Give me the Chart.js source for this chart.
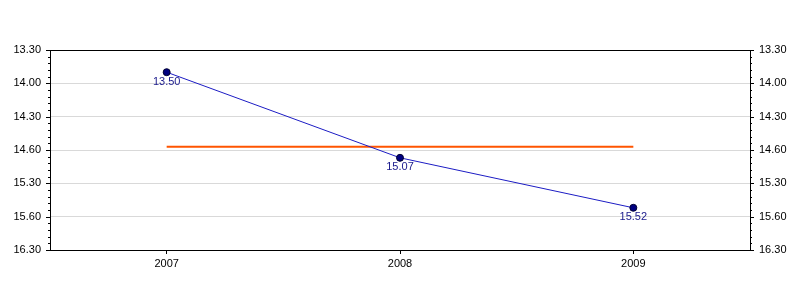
<!DOCTYPE html>
<html>
<head>
<meta charset="utf-8">
<script src="https://cdn.jsdelivr.net/npm/chart.js@4/dist/chart.umd.min.js"></script>
<style>
  html, body { margin: 0; padding: 0; background: #fff; }
  #wrap { width: 800px; height: 300px; }
</style>
</head>
<body>
<div id="wrap"><canvas id="chart" width="800" height="300"></canvas></div>
<script>
// datos del gráfico (tiempos en minutos.segundos)
const years = ['2007', '2008', '2009'];
const timeLabels = ['13.50', '15.07', '15.52'];
const timeValues = [13.833, 15.117, 15.867];   // mismos tiempos en minutos decimales
const targetValues = [14.95, 14.95, 14.95];
const yTickValues = [13.5, 14.0, 14.5, 15.0, 15.5, 16.0, 16.5];
const yTickLabels = ['13.30', '14.00', '14.30', '14.60', '15.30', '15.60', '16.30'];

const FONT = { family: '"Liberation Sans", Arial, sans-serif', size: 11 };

function tickLabel(value) {
  const i = yTickValues.findIndex(v => Math.abs(v - value) < 1e-6);
  return i >= 0 ? yTickLabels[i] : '';
}

// marco, marcas menores y etiquetas de los puntos
const extras = {
  id: 'extras',
  afterDraw(chart) {
    const { ctx, chartArea: a } = chart;
    const yl = chart.scales.y;
    ctx.save();
    ctx.strokeStyle = '#000';
    ctx.lineWidth = 1;
    ctx.strokeRect(Math.round(a.left) + 0.5, Math.round(a.top) + 0.5,
      Math.round(a.right - a.left), Math.round(a.bottom - a.top));

    // marcas del eje y (mayores y menores)
    ctx.beginPath();
    for (let i = 0; i <= 30; i++) {
      const v = yl.min + i * 0.1;
      const py = Math.round(yl.getPixelForValue(v)) + 0.5;
      const len = i % 5 === 0 ? 4 : 2;
      ctx.moveTo(Math.round(a.left), py);
      ctx.lineTo(Math.round(a.left) - len, py);
      ctx.moveTo(Math.round(a.right), py);
      ctx.lineTo(Math.round(a.right) + len, py);
    }
    ctx.stroke();

    // etiquetas de los valores
    const meta = chart.getDatasetMeta(1);
    ctx.fillStyle = '#1a1a8c';
    ctx.font = FONT.size + 'px ' + FONT.family;
    ctx.textAlign = 'center';
    ctx.textBaseline = 'top';
    meta.data.forEach((pt, i) => {
      ctx.fillText(timeLabels[i], pt.x, pt.y + 4);
    });
    ctx.restore();
  }
};

const yScale = (position) => ({
  type: 'linear',
  position: position,
  reverse: true,
  min: 13.5,
  max: 16.5,
  afterBuildTicks(scale) {
    scale.ticks = yTickValues.map(v => ({ value: v }));
  },
  afterFit(scale) { scale.width = 50; },
  border: { display: false },
  grid: {
    drawTicks: false,
    drawOnChartArea: position === 'left',
    color: ctx => (ctx.index === 0 || ctx.index === yTickValues.length - 1) ? 'rgba(0,0,0,0)' : '#d9d9d9'
  },
  ticks: {
    padding: 9,
    color: '#000',
    font: FONT,
    callback: v => tickLabel(v)
  }
});

new Chart(document.getElementById('chart'), {
  type: 'line',
  data: {
    labels: years,
    datasets: [
      {
        label: 'Objetivo',
        data: targetValues,
        borderColor: '#ff5500',
        borderWidth: 2,
        pointRadius: 0,
        fill: false,
        order: 2
      },
      {
        label: 'Tiempo',
        data: timeValues,
        borderColor: '#1c1cc4',
        borderWidth: 1,
        pointRadius: 3.5,
        pointBackgroundColor: '#000080',
        pointBorderColor: '#000033',
        pointBorderWidth: 1,
        fill: false,
        order: 1
      }
    ]
  },
  options: {
    responsive: false,
    animation: false,
    layout: { padding: { top: 50, left: 0, right: 0, bottom: 0 } },
    plugins: {
      legend: { display: false },
      tooltip: { enabled: false }
    },
    scales: {
      x: {
        type: 'category',
        offset: true,
        afterFit(scale) { scale.height = 50; },
        border: { display: false },
        grid: {
          offset: false,
          drawOnChartArea: false,
          tickLength: 4,
          tickColor: '#000'
        },
        ticks: { padding: 3, color: '#000', font: FONT }
      },
      y: yScale('left'),
      y2: yScale('right')
    }
  },
  plugins: [extras]
});
</script>
</body>
</html>
